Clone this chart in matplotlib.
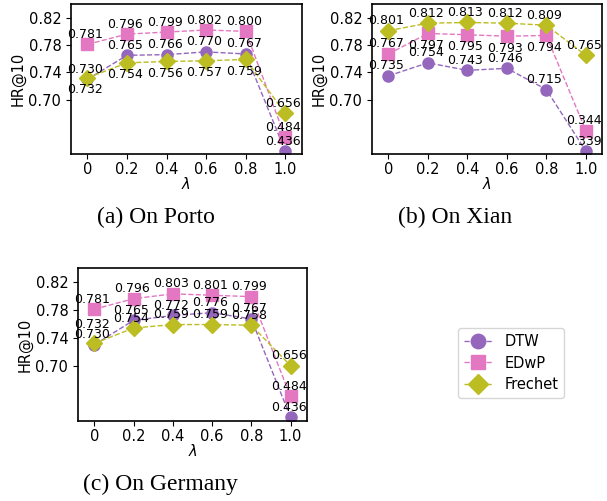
import numpy as np
import matplotlib
matplotlib.use("Agg")
import matplotlib.pyplot as plt

# lambda values on the x axis
lam = [0, 0.2, 0.4, 0.6, 0.8, 1.0]
lam_labels = ["0", "0.2", "0.4", "0.6", "0.8", "1.0"]

# HR@10 per dataset
porto_dtw = [0.730, 0.765, 0.766, 0.770, 0.767, 0.436]
porto_edwp = [0.781, 0.796, 0.799, 0.802, 0.800, 0.484]
porto_frechet = [0.732, 0.754, 0.756, 0.757, 0.759, 0.656]

xian_dtw = [0.735, 0.754, 0.743, 0.746, 0.715, 0.339]
xian_edwp = [0.767, 0.797, 0.795, 0.793, 0.794, 0.344]
xian_frechet = [0.801, 0.812, 0.813, 0.812, 0.809, 0.765]

germany_dtw = [0.730, 0.765, 0.772, 0.776, 0.767, 0.436]
germany_edwp = [0.781, 0.796, 0.803, 0.801, 0.799, 0.484]
germany_frechet = [0.732, 0.754, 0.759, 0.759, 0.758, 0.656]

# where the off-scale values (< 0.70) are drawn on the cut axis (DTW, EDwP, Frechet)
porto_cut = [0.625, 0.645, 0.680]
xian_cut = [0.625, 0.655, None]
germany_cut = [0.626, 0.656, 0.700]

names = ["DTW", "EDwP", "Frechet"]
colors = ["#9467bd", "#e377c2", "#bcbd22"]
markers = ["o", "s", "D"]

fig = plt.figure(figsize=(6.07, 5.01), dpi=100)


def panel(rect, series, cut, below, extra_up):
    ax = fig.add_axes(rect)
    for k, vals in enumerate(series):
        y = list(vals)
        if cut[k] is not None:
            y[-1] = cut[k]
        ax.plot(lam, y, linestyle="--", linewidth=1, color=colors[k],
                marker=markers[k], markersize=8, label=names[k])
        for i, v in enumerate(vals):
            dy = 10
            if (k, i) in below:
                dy = -12
            if (k, i) in extra_up:
                dy = 19
            ax.annotate("%.3f" % v, (lam[i], y[i]), xytext=(-2, dy),
                        textcoords="offset pixels", ha="center", va="center",
                        fontsize=9)
    ax.set_xlim(-0.083, 1.083)
    ax.set_ylim(0.621, 0.840)
    ax.set_xticks(lam)
    ax.set_xticklabels(lam_labels)
    ax.set_yticks([0.70, 0.74, 0.78, 0.82])
    ax.set_yticklabels(["0.70", "0.74", "0.78", "0.82"])
    ax.tick_params(labelsize=10.5)
    ax.tick_params(axis="x", pad=2.5)
    ax.set_xlabel(r"$\lambda$", fontsize=10.5, labelpad=-1)
    ax.set_ylabel("HR@10", fontsize=10.5, labelpad=2)
    for s in ax.spines.values():
        s.set_linewidth(1.2)
    return ax


panel([0.117, 0.693, 0.380, 0.299],
      [porto_dtw, porto_edwp, porto_frechet], porto_cut,
      below={(2, 0), (2, 1), (2, 2), (2, 3), (2, 4)}, extra_up=set())
panel([0.613, 0.693, 0.379, 0.299],
      [xian_dtw, xian_edwp, xian_frechet], xian_cut,
      below={(1, 1), (1, 2), (1, 3), (1, 4)}, extra_up=set())
ax3 = panel([0.1285, 0.160, 0.377, 0.305],
            [germany_dtw, germany_edwp, germany_frechet], germany_cut,
            below=set(), extra_up={(2, 0)})

h, l = ax3.get_legend_handles_labels()
fig.legend(h, l, loc="center", bbox_to_anchor=(0.842, 0.2754), fontsize=10.5,
           markerscale=1.3, handlelength=2.0, borderpad=0.4, labelspacing=0.45)

cap = dict(family="Liberation Serif", fontsize=17, ha="center", va="center")
fig.text(156 / 607, 1 - 217 / 501, "(a) On Porto", **cap)
fig.text(455 / 607, 1 - 217 / 501, "(b) On Xian", **cap)
fig.text(160 / 607, 1 - 484 / 501, "(c) On Germany", **cap)

fig.savefig("out.png", dpi=100)
